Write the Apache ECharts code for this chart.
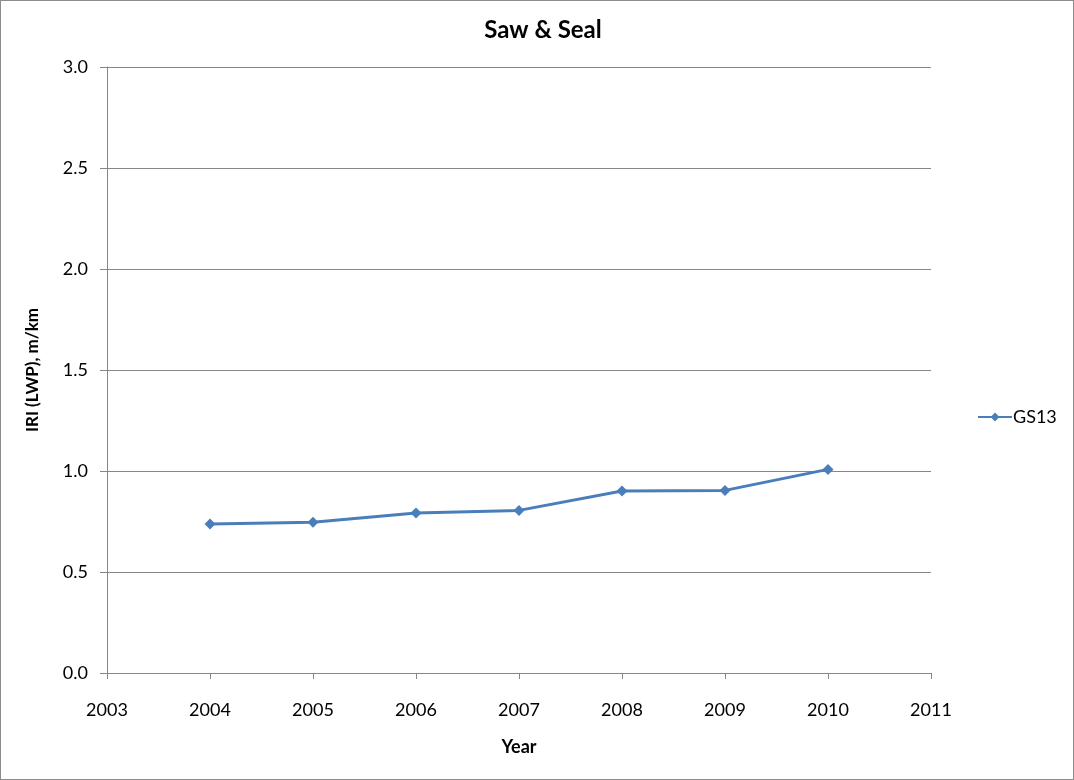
<!DOCTYPE html>
<html>
<head>
<meta charset="utf-8">
<script src="https://cdn.jsdelivr.net/npm/echarts@6/dist/echarts.min.js"></script>
<style>
  html, body { margin: 0; padding: 0; background: #fff; }
  #main { width: 1074px; height: 780px; box-sizing: border-box; border: 1px solid #8c8c8c; }
</style>
</head>
<body>
<div id="main"></div>
<script>
// data
const years = [2004, 2005, 2006, 2007, 2008, 2009, 2010];
const gs13 = [0.738, 0.746, 0.792, 0.805, 0.901, 0.904, 1.008];
const seriesName = "GS13";

const fontFam = "Lato, 'Open Sans', sans-serif";
const diamond = "path://M0,5L5,0L10,5L5,10Z";
const points = years.map((y, i) => [y, gs13[i]]);

var myChart = echarts.init(document.getElementById("main"));
var option = {
    animation: false,
    title: {
        text: "Saw & Seal",
        left: 537,
        top: 12,
        textAlign: "center",
        textStyle: { fontFamily: fontFam, fontSize: 24, fontWeight: "bold", color: "#000" }
    },
    legend: {
        left: 971,
        top: 402,
        orient: "vertical",
        itemWidth: 34,
        itemHeight: 11,
        itemGap: 4,
        textStyle: { fontFamily: fontFam, fontSize: 18, color: "#000", padding: [0, 0, 0, -4] },
        data: [seriesName]
    },
    grid: { left: 106, right: 142, top: 66, bottom: 106 },
    xAxis: {
        type: "value",
        min: 2003,
        max: 2011,
        interval: 1,
        name: "Year",
        nameLocation: "middle",
        nameGap: 65,
        nameTextStyle: { fontFamily: fontFam, fontSize: 18, fontWeight: "bold", color: "#000" },
        axisLine: { show: true, onZero: false, lineStyle: { color: "#868686" } },
        axisTick: { show: true, length: 6, lineStyle: { color: "#868686" } },
        axisLabel: {
            fontFamily: fontFam, fontSize: 18, color: "#000", margin: 28,
            formatter: v => String(v)
        },
        splitLine: { show: false }
    },
    yAxis: {
        type: "value",
        min: 0,
        max: 3,
        interval: 0.5,
        name: "IRI (LWP), m/km",
        nameLocation: "middle",
        nameGap: 66,
        nameTextStyle: { fontFamily: fontFam, fontSize: 17, fontWeight: "bold", color: "#000" },
        axisLine: { show: true, lineStyle: { color: "#868686" } },
        axisTick: { show: true, length: 7, lineStyle: { color: "#868686" } },
        axisLabel: {
            fontFamily: fontFam, fontSize: 18, color: "#000", margin: 19,
            formatter: v => v.toFixed(1)
        },
        splitLine: { show: true, lineStyle: { color: "#868686" } }
    },
    series: [{
        name: seriesName,
        type: "line",
        data: points,
        symbol: diamond,
        symbolSize: 11,
        itemStyle: { color: "#4a7ebb" },
        lineStyle: { color: "#4a7ebb", width: 3 }
    }]
};
myChart.setOption(option);
</script>
</body>
</html>
